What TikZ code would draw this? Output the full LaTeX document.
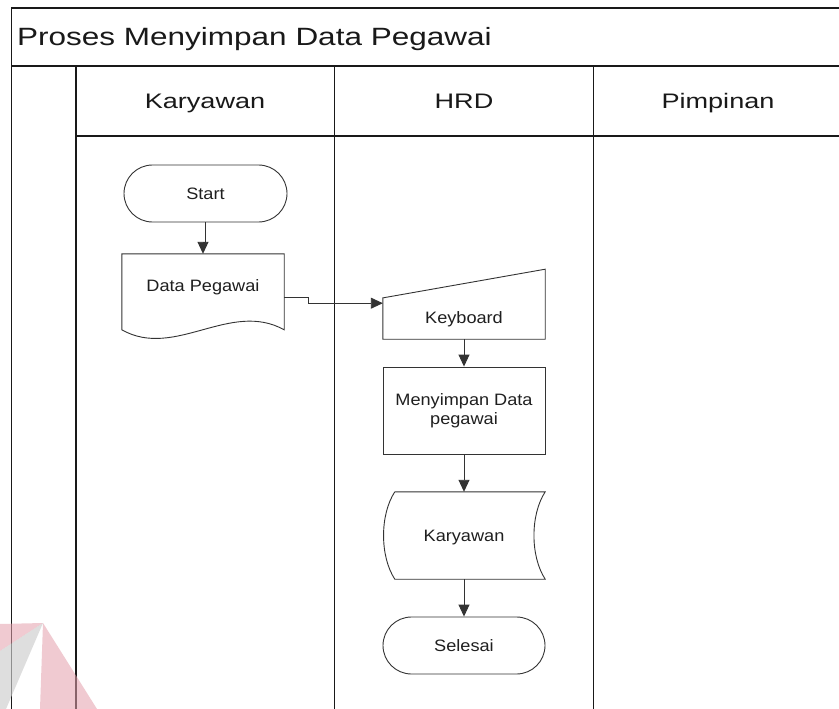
\documentclass[tikz,border=0pt]{standalone}
\usepackage{fontspec}
\setmainfont{Liberation Sans}
\usepackage{graphicx}
\usetikzlibrary{arrows.meta,calc}
\newcommand{\hs}[2]{\scalebox{#1}[1]{#2}}
\newcommand{\ttlfont}{\fontsize{25}{30}\selectfont}
\newcommand{\hdrfont}{\fontsize{21}{25}\selectfont}
\newcommand{\ndsfont}{\fontsize{16.5}{19}\selectfont}
\definecolor{wmpink}{RGB}{228,160,172}
\definecolor{wmgray}{RGB}{205,205,205}
\begin{document}
\begin{tikzpicture}[x=1pt,y=-1pt,
  lanefr/.style={line width=1.3pt,draw=black!90},
  outl/.style={line width=0.9pt,draw=black!80},
  arr/.style={line width=0.9pt,draw=black!80,-{Triangle[length=12pt,width=11pt]}},
  txt/.style={font=\ndsfont,text=black!88,inner sep=0pt},
  term/.style={outl,rectangle,rounded corners=28.5pt,minimum width=163pt,minimum height=57pt,txt,text height=11.8pt,text depth=0pt},
  shapebox/.style={rectangle,minimum width=162pt,inner sep=0pt,txt},
  lanelabel/.style={anchor=base,inner sep=0pt,font=\hdrfont,text=black!90}
]
\useasboundingbox (0,0) rectangle (839,709);
\fill[white] (0,0) rectangle (839,709);

% pool and lanes
\draw[lanefr] (11.5,709) -- (11.5,8) -- (839,8);
\draw[lanefr] (11.5,66) -- (839,66);
\draw[lanefr] (76,136) -- (839,136);
\foreach \x in {76,334.5,593.5} \draw[lanefr] (\x,66) -- (\x,709);

\node[anchor=base west,inner sep=0pt,font=\ttlfont,text=black!90] (title) at (17,45.7) {\hs{1.26}{Proses Menyimpan Data Pegawai}};
\node[lanelabel] (lk) at (205,108.3) {\hs{1.29}{Karyawan}};
\node[lanelabel] (lh) at (464,108.3) {\hs{1.29}{HRD}};
\node[lanelabel] (lp) at (718,108.3) {\hs{1.29}{Pimpinan}};

% shapes
\node[term] (start) at (205.5,193.5) {\hs{1.1}{Start}};

\node[shapebox,minimum height=64pt,text height=11.8pt,text depth=0pt] (doc) at (203,286) {\hs{1.1}{Data Pegawai}};
\draw[outl] (doc.north west) -- (doc.north east) -- ($(doc.north east)+(0,76)$)
  .. controls ($(doc.north east)+(-54,46)$) and ($(doc.north west)+(53,106)$) .. ($(doc.north west)+(0,76)$) -- cycle;

\node[shapebox,minimum height=43pt,text height=11.8pt,text depth=0pt] (kb) at (464,317.5) {\hs{1.1}{Keyboard}};
\draw[outl] (kb.south west) -- (kb.south east) -- ($(kb.south east)+(0,-70)$) -- ($(kb.south west)+(0,-41.3)$) -- cycle;
\coordinate (kbin) at ($(kb.south west)+(0,-36)$);
\coordinate (docout) at ($(doc.north east)+(0,43.7)$);

\node[outl,shapebox,minimum height=87pt,align=center] (proc) at (464,410.5) {\hs{1.1}{Menyimpan Data}\\\hs{1.1}{pegawai}};

\node[shapebox,minimum height=87pt,text height=11.8pt,text depth=0pt] (store) at (464,535.5) {\hs{1.1}{Karyawan}};
\draw[outl] ($(store.north west)+(12,0)$) -- (store.north east)
  .. controls ($(store.north east)+(-15,23)$) and ($(store.south east)+(-15,-23)$) .. (store.south east)
  -- ($(store.south west)+(12,0)$)
  .. controls ($(store.south west)+(-3,-23)$) and ($(store.north west)+(-3,23)$) .. ($(store.north west)+(12,0)$);

\node[term,minimum width=162pt] (sel) at (464,645.5) {\hs{1.1}{Selesai}};

% connectors
\draw[arr] (start.south) -- ++(0,20) -| (doc.north);
\draw[arr] (docout) -- ++(24,0) |- (kbin);
\draw[arr] (kb.south) -- (proc.north);
\draw[arr] (proc.south) -- (store.north);
\draw[arr] (store.south) -- (sel.north);

% watermark
\fill[wmpink,fill opacity=0.55] (43,623) -- (0,624) -- (0,651) -- cycle;
\fill[wmgray,fill opacity=0.65] (43,623) -- (0,651) -- (0,709) -- (6,709) -- cycle;
\fill[wmpink,fill opacity=0.55] (43,623) -- (40,709) -- (97,709) -- cycle;
\end{tikzpicture}
\end{document}
